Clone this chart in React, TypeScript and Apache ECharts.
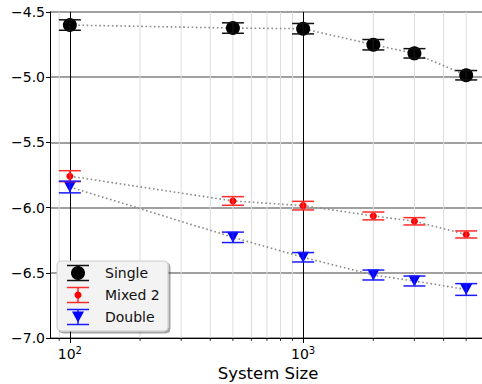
import React, { useEffect, useRef } from "react";
import * as echarts from "echarts";

const sizes = [100, 500, 1000, 2000, 3000, 5000];
const singleMean = [-4.6, -4.623, -4.628, -4.751, -4.817, -4.985];
const singleErr = [0.04, 0.04, 0.04, 0.04, 0.036, 0.036];
const mixedMean = [-5.759, -5.949, -5.985, -6.064, -6.105, -6.206];
const mixedErr = [0.042, 0.033, 0.033, 0.03, 0.028, 0.027];
const doubleMean = [-5.842, -6.228, -6.381, -6.517, -6.563, -6.628];
const doubleErr = [0.045, 0.04, 0.036, 0.038, 0.038, 0.045];
const seriesNames = ["Single", "Mixed 2", "Double"];
const yTicks = [-7.0, -6.5, -6.0, -5.5, -5.0, -4.5];
const minorX = [90, 200, 300, 400, 500, 600, 700, 800, 900, 2000, 3000, 4000, 5000, 6000];
const xMin = 82.2;
const xMax = 6080;

const FONT = "DejaVu Sans";

export default function App() {
  const ref = useRef<HTMLDivElement>(null);
  useEffect(() => {
    document.body.style.margin = "0";
    const chart = echarts.init(ref.current!, null, { renderer: "svg" });
    const yMin = yTicks[0];
    const yMax = yTicks[yTicks.length - 1];

    const groups = [
      { name: seriesNames[0], mean: singleMean, err: singleErr, color: "#000000", bar: "#111111", symbol: "circle", size: 14 as any, rotate: 0 },
      { name: seriesNames[1], mean: mixedMean, err: mixedErr, color: "#ff0000", bar: "#ff2a2a", symbol: "circle", size: 7 as any, rotate: 0 },
      { name: seriesNames[2], mean: doubleMean, err: doubleErr, color: "#0000ff", bar: "#1a1aff", symbol: "triangle", size: [12, 11] as any, rotate: 180 },
    ];

    const series: any[] = [];
    series.push({
      type: "custom",
      z: 1,
      silent: true,
      clip: false,
      data: minorX.map((v) => [v, yMin]),
      encode: { x: 0, y: 1 },
      renderItem: (params: any, api: any) => {
        const v = api.value(0);
        const b = api.coord([v, yMin]);
        const t = api.coord([v, yMax]);
        if (b[0] > 490) return null;
        return {
          type: "group",
          children: [
            { type: "line", shape: { x1: b[0], y1: b[1], x2: t[0], y2: t[1] }, style: { stroke: "#dcdcdc", lineWidth: 1 } },
            { type: "line", shape: { x1: b[0], y1: b[1], x2: b[0], y2: b[1] + 3 }, style: { stroke: "#000", lineWidth: 0.8 } },
          ],
        };
      },
    });

    groups.forEach((g) => {
      series.push({
        name: g.name,
        type: "line",
        z: 3,
        data: sizes.map((s, i) => [s, g.mean[i]]),
        symbol: g.symbol,
        symbolSize: g.size,
        symbolRotate: g.rotate,
        showSymbol: true,
        lineStyle: { color: "#8a8a8a", width: 1.6, type: [1.6, 2.6] },
        itemStyle: { color: g.color, borderWidth: 0 },
      });
      series.push({
        name: g.name + " err",
        type: "custom",
        z: 4,
        data: sizes.map((s, i) => [s, g.mean[i] - g.err[i], g.mean[i] + g.err[i]]),
        encode: { x: 0, y: [1, 2] },
        renderItem: (params: any, api: any) => {
          const x = api.value(0);
          const lo = api.coord([x, api.value(1)]);
          const hi = api.coord([x, api.value(2)]);
          const hw = 11;
          const st = { stroke: g.bar, lineWidth: 1.5 };
          return {
            type: "group",
            children: [
              { type: "line", shape: { x1: lo[0], y1: lo[1], x2: hi[0], y2: hi[1] }, style: st },
              { type: "line", shape: { x1: lo[0] - hw, y1: lo[1], x2: lo[0] + hw, y2: lo[1] }, style: st },
              { type: "line", shape: { x1: hi[0] - hw, y1: hi[1], x2: hi[0] + hw, y2: hi[1] }, style: st },
            ],
          };
        },
      });
    });

    const lx = 57, ly = 261, lw = 111, lh = 70;
    const Z = 100;
    const legendChildren: any[] = [
      {
        type: "rect",
        z: Z,
        shape: { x: lx, y: ly, width: lw, height: lh, r: 4 },
        style: { fill: "#f3f3f3", stroke: "#cccccc", lineWidth: 1, shadowColor: "rgba(0,0,0,0.35)", shadowOffsetX: 2, shadowOffsetY: 2, shadowBlur: 1 },
      },
    ];
    groups.forEach((g, i) => {
      const cy = 273 + i * 22;
      const cx = 78;
      const st = { stroke: g.bar, lineWidth: 1.5 };
      legendChildren.push(
        { type: "line", z: Z + 1, shape: { x1: cx - 11, y1: cy - 7.5, x2: cx + 11, y2: cy - 7.5 }, style: st },
        { type: "line", z: Z + 1, shape: { x1: cx - 11, y1: cy + 7.5, x2: cx + 11, y2: cy + 7.5 }, style: st },
        { type: "line", z: Z + 1, shape: { x1: cx, y1: cy - 7.5, x2: cx, y2: cy + 7.5 }, style: st }
      );
      if (g.symbol === "circle") {
        legendChildren.push({ type: "circle", z: Z + 2, shape: { cx, cy, r: (g.size as number) / 2 }, style: { fill: g.color } });
      } else {
        legendChildren.push({
          type: "polygon",
          z: Z + 2,
          shape: { points: [[cx - 6, cy - 5.5], [cx + 6, cy - 5.5], [cx, cy + 5.5]] },
          style: { fill: g.color },
        });
      }
      legendChildren.push({
        type: "text",
        z: Z + 2,
        x: 105,
        y: cy,
        style: { text: g.name, fill: "#111", font: `14px "${FONT}"`, verticalAlign: "middle", align: "left" },
      });
    });

    chart.setOption({
      animation: false,
      backgroundColor: "#ffffff",
      grid: { left: 50, top: 12, width: 436, height: 326, containLabel: false, outerBoundsMode: "none" },
      xAxis: {
        type: "log",
        logBase: 10,
        min: xMin,
        max: xMax,
        name: "System Size",
        nameLocation: "middle",
        nameGap: 35,
        nameMoveOverlap: false,
        nameTextStyle: { fontFamily: FONT, fontSize: 16.5, color: "#000", verticalAlign: "middle" },
        axisLine: { show: true, onZero: false, lineStyle: { color: "#000", width: 1 } },
        axisTick: { show: true, length: 5, lineStyle: { color: "#000", width: 1 } },
        axisLabel: {
          fontFamily: FONT,
          fontSize: 14,
          color: "#000",
          margin: 7,
          showMinLabel: false,
          showMaxLabel: false,
          formatter: (v: number) => {
            const l = Math.log10(v);
            const e = Math.round(l);
            if (Math.abs(l - e) > 1e-6) return "";
            return "{b|10}{s|" + e + "}";
          },
          rich: {
            b: { fontFamily: FONT, fontSize: 14, color: "#000", verticalAlign: "bottom", lineHeight: 16 },
            s: { fontFamily: FONT, fontSize: 10, color: "#000", verticalAlign: "top", lineHeight: 16, padding: [0, 0, 8, 0] },
          },
        },
        splitLine: { show: true, lineStyle: { color: "#000", width: 1 } },
        minorTick: { show: false },
      },
      yAxis: {
        type: "value",
        min: yMin,
        max: yMax,
        interval: 0.5,
        axisLine: { show: true, lineStyle: { color: "#000", width: 1 } },
        axisTick: { show: true, length: 4, lineStyle: { color: "#000", width: 1 } },
        axisLabel: {
          fontFamily: FONT,
          fontSize: 14,
          color: "#000",
          margin: 5,
          formatter: (v: number) => v.toFixed(1).replace("-", "\u2212"),
        },
        splitLine: { show: true, lineStyle: { color: "#808080", width: 1.6 } },
      },
      series,
      graphic: [{ type: "group", children: legendChildren }],
    });
    return () => chart.dispose();
  }, []);
  return (
    <div style={{ width: 482, height: 384, overflow: "hidden", background: "#fff" }}>
      <div ref={ref} style={{ width: 490, height: 384 }} />
    </div>
  );
}
